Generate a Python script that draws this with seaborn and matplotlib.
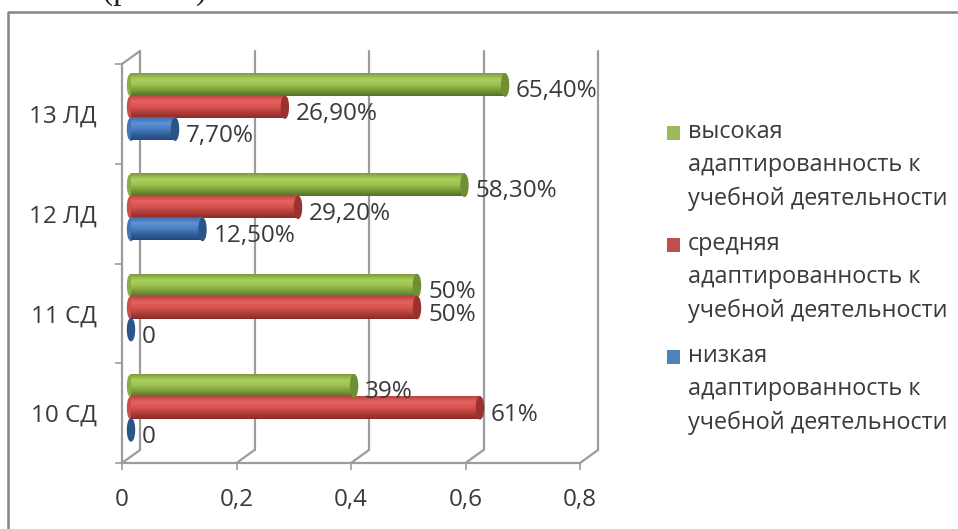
import matplotlib
matplotlib.use("Agg")
import matplotlib.pyplot as plt
from matplotlib.colors import LinearSegmentedColormap
from matplotlib.lines import Line2D
from matplotlib.patches import Ellipse, Patch
from matplotlib.transforms import Affine2D
import numpy as np
import pandas as pd
import seaborn as sns

# ---------------- Data ----------------
groups = ["13 ЛД", "12 ЛД", "11 СД", "10 СД"]
high = [0.654, 0.583, 0.50, 0.39]
mid = [0.269, 0.292, 0.50, 0.61]
low = [0.077, 0.125, 0.0, 0.0]
high_labels = ["65,40%", "58,30%", "50%", "39%"]
mid_labels = ["26,90%", "29,20%", "50%", "61%"]
low_labels = ["7,70%", "12,50%", "0", "0"]
series_names = [
    "высокая\nадаптированность к\nучебной деятельности",
    "средняя\nадаптированность к\nучебной деятельности",
    "низкая\nадаптированность к\nучебной деятельности",
]
x_ticks = [0, 0.2, 0.4, 0.6, 0.8]
x_tick_labels = ["0", "0,2", "0,4", "0,6", "0,8"]

# ---------------- Settings ----------------
W, H = 958, 529
sns.set_theme(style="white")
plt.rcParams["font.family"] = ["Open Sans", "DejaVu Sans"]
TEXT = "#3a3a3a"
GRID = "#9c9c9c"
FONT = 17.5
LEGEND_FONT = 16.8

legend_colors = ["#9bbb59", "#c0504d", "#4f81bd"]
left_colors = ["#8aab45", "#c9504c", "#4476b4"]
bar_colors = {
    series_names[0]: ["#7f9c3c", "#a9cf5c", "#9cc24f", "#7b9c38", "#56702a"],
    series_names[1]: ["#b84440", "#e56360", "#d9534f", "#b23e3a", "#8a2c29"],
    series_names[2]: ["#3a6aa8", "#5d94d6", "#4a80c4", "#33609c", "#234a7c"],
}
cap_colors = ["#6f8f34", "#9a3330", "#2b5487"]


def px_rect(left, top, right, bottom):
    return [left / W, 1 - bottom / H, (right - left) / W, (bottom - top) / H]


fig = plt.figure(figsize=(W / 100, H / 100), dpi=100, facecolor="white")

# outer frame of the pasted chart, no right or bottom side
fig.add_artist(Line2D([8 / W, 8 / W, 1], [0, 1 - 12 / H, 1 - 12 / H], color="#858585", lw=1.8))
# the line of body text above the chart is cut by the top of the picture, as in the scan
fig.text(102 / W, 1 + 1 / H, "(рис. 3)", family="Liberation Serif", fontsize=24, color="#222222",
         va="baseline", ha="left")

# ---------------- Front axes: ticks, labels, 3D wall ----------------
ax = fig.add_axes(px_rect(122, 64, 580, 463))
ax.set_xlim(0, 0.8)
ax.set_ylim(4, 0)
ax.patch.set_alpha(0)
for side in ["top", "right"]:
    ax.spines[side].set_visible(False)
for side in ["left", "bottom"]:
    ax.spines[side].set_color(GRID)
    ax.spines[side].set_linewidth(1.6)

ax.set_xticks(x_ticks)
ax.set_xticklabels(x_tick_labels, fontsize=FONT, color=TEXT)
ax.tick_params(axis="x", bottom=True, length=5, width=1.2, color=GRID, pad=13)
ax.set_yticks([0.5, 1.5, 2.5, 3.5])
ax.set_yticklabels(groups, fontsize=FONT, color=TEXT)
ax.tick_params(axis="y", which="major", left=False, pad=12)
ax.set_yticks([0, 1, 2, 3, 4], minor=True)
ax.tick_params(axis="y", which="minor", left=True, length=5, width=1.2, color=GRID)

# back wall is the same frame moved up and to the right
dx, dy = 18, 13
shift = Affine2D().translate(dx, dy)
wall = ax.get_xaxis_transform() + shift
for t in x_ticks:
    ax.plot([t, t], [0, 1], transform=wall, color=GRID, lw=1.6, clip_on=False, zorder=1)
    ax.annotate("", xy=(t, 0), xycoords=ax.get_xaxis_transform(),
                xytext=(dx, dy), textcoords="offset pixels",
                arrowprops=dict(arrowstyle="-", color=GRID, lw=1.6, shrinkA=0, shrinkB=0))
ax.annotate("", xy=(0, 1), xycoords=ax.get_xaxis_transform(),
            xytext=(dx, dy), textcoords="offset pixels",
            arrowprops=dict(arrowstyle="-", color=GRID, lw=1.6, shrinkA=0, shrinkB=0))

# ---------------- Bars ----------------
df = pd.DataFrame({"group": groups, series_names[0]: high, series_names[1]: mid, series_names[2]: low})
long_df = df.melt(id_vars="group", var_name="level", value_name="share")

bar_ax = fig.add_axes(px_rect(131, 57, 131 + 572 * 0.8, 458))
sns.barplot(data=long_df, y="group", x="share", hue="level", order=groups, hue_order=series_names,
            palette=dict(zip(series_names, legend_colors)), width=0.66, gap=0, orient="h",
            legend=False, ax=bar_ax)
bar_ax.set_xlim(0, 0.8)
bar_ax.set_ylim(3.5, -0.5)
bar_ax.axis("off")

cap_w = 7 / 572
all_labels = [high_labels, mid_labels, low_labels]
text_nudge = [6, 7, 7]
for i, container in enumerate(bar_ax.containers):
    cmap = LinearSegmentedColormap.from_list("cyl", bar_colors[series_names[i]])
    for bar, label in zip(container, all_labels[i]):
        y, h, v = bar.get_y(), bar.get_height(), bar.get_width()
        yc = y + h / 2
        if v > 0:
            bar_ax.add_patch(Ellipse((0, yc), cap_w, h, color=left_colors[i], clip_on=False, zorder=2))
            grad = np.linspace(0, 1, 40).reshape(-1, 1)
            bar_ax.imshow(grad, cmap=cmap, extent=(0, v, y + h, y), origin="upper", aspect="auto",
                          interpolation="bilinear", zorder=3)
            bar.set_visible(False)
        bar_ax.add_patch(Ellipse((v, yc), cap_w, h, color=cap_colors[i], clip_on=False, zorder=4))
        bar_ax.annotate(label, xy=(v, yc), xytext=(11, -text_nudge[i]), textcoords="offset pixels",
                        ha="left", va="center", fontsize=FONT, color=TEXT, zorder=5, annotation_clip=False)
bar_ax.set_xlim(0, 0.8)
bar_ax.set_ylim(3.5, -0.5)

# ---------------- Legend ----------------
handles = [Patch(facecolor=c, edgecolor="none") for c in legend_colors]
leg = fig.legend(handles, series_names, loc="upper left", bbox_to_anchor=(667 / W, 1 - 120 / H),
                 frameon=False, fontsize=LEGEND_FONT, labelcolor=TEXT, handlelength=0.55, handleheight=0.55,
                 handletextpad=0.35, labelspacing=0.92, borderpad=0, borderaxespad=0)
for text in leg.get_texts():
    text.set_linespacing(1.5)
# matplotlib lines the key up with the middle of the block, the chart has it on the first row
for handle in leg.legend_handles:
    handle.set_y(handle.get_y() + 33 * 0.72)

fig.savefig("out.png", dpi=100)
